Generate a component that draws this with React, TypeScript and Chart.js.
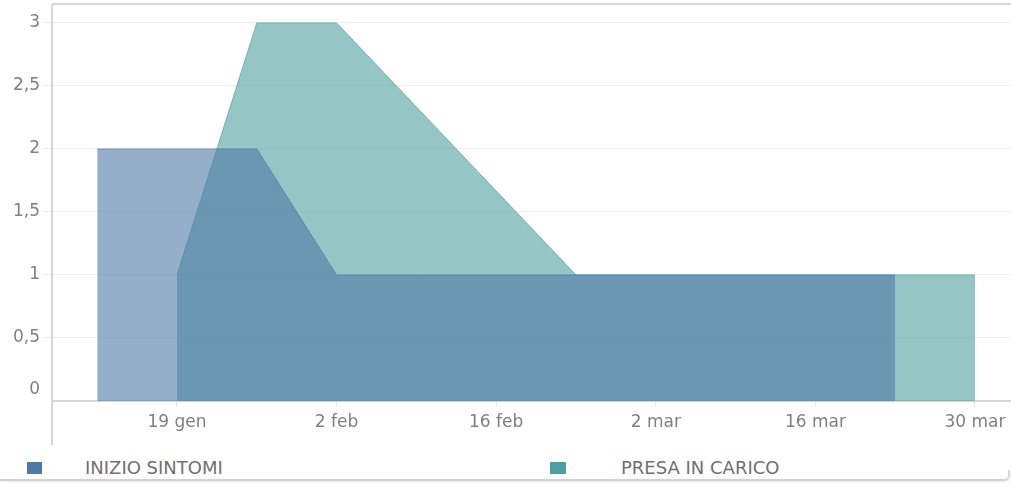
import React, { useEffect, useRef } from 'react';
import { Chart, registerables } from 'chart.js';

Chart.register(...registerables);

// Day-of-year (2021) for each weekly point
const seriesNames = ['INIZIO SINTOMI', 'PRESA IN CARICO'];
const inizioDays = [12, 19, 26, 33, 40, 47, 54, 61, 68, 75, 82];
const inizioValues = [2, 2, 2, 1, 1, 1, 1, 1, 1, 1, 1];
const presaDays = [19, 26, 33, 54, 61, 68, 75, 82, 89];
const presaValues = [1, 3, 3, 1, 1, 1, 1, 1, 1];
const xTickDays = [19, 33, 47, 61, 75, 89];
const xTickLabels = ['19 gen', '2 feb', '16 feb', '2 mar', '16 mar', '30 mar'];
const yTicks = [0, 0.5, 1, 1.5, 2, 2.5, 3];

const FONT = "'DejaVu Sans', sans-serif";
const BLUE = '#4e79a7';
const TEAL = '#4e9f9f';

const framePlugin = {
  id: 'frame',
  afterDraw(chart: any) {
    const { ctx, chartArea } = chart;
    ctx.save();
    ctx.strokeStyle = '#d6d6d6';
    ctx.lineWidth = 2;
    ctx.beginPath();
    ctx.moveTo(chartArea.left, chartArea.top);
    ctx.lineTo(chartArea.left, chart.height - 5);
    ctx.moveTo(chartArea.left, chartArea.top);
    ctx.lineTo(chartArea.right, chartArea.top);
    ctx.stroke();
    ctx.restore();
  },
};

export default function App() {
  const ref = useRef<HTMLCanvasElement | null>(null);

  useEffect(() => {
    if (!ref.current) return;
    const inizio = inizioDays.map((d, i) => ({ x: d, y: inizioValues[i] }));
    const presa = presaDays.map((d, i) => ({ x: d, y: presaValues[i] }));
    const chart = new Chart(ref.current, {
      type: 'line',
      data: {
        datasets: [
          {
            label: seriesNames[0],
            data: inizio,
            fill: 'origin',
            backgroundColor: 'rgba(78,121,167,0.6)',
            borderColor: 'rgba(78,121,167,0.7)',
            borderWidth: 1,
            pointRadius: 0,
            tension: 0,
          },
          {
            label: seriesNames[1],
            data: presa,
            fill: 'origin',
            backgroundColor: 'rgba(78,159,159,0.6)',
            borderColor: 'rgba(78,159,159,0.7)',
            borderWidth: 1,
            pointRadius: 0,
            tension: 0,
          },
        ],
      },
      options: {
        animation: false,
        responsive: false,
        maintainAspectRatio: false,
        layout: { padding: { top: 4, left: 0, right: 0, bottom: 0 } },
        plugins: { legend: { display: false }, tooltip: { enabled: false } },
        scales: {
          x: {
            type: 'linear',
            min: 8.035,
            max: 92.16,
            afterBuildTicks: (s: any) => {
              s.ticks = xTickDays.map((v) => ({ value: v }));
            },
            afterFit: (s: any) => {
              s.height = 49;
              s.paddingLeft = 0;
              s.paddingRight = 0;
            },
            grid: {
              drawOnChartArea: false,
              drawTicks: true,
              tickLength: 6,
              color: '#e8e8e8',
            },
            border: { display: true, color: '#d6d6d6', width: 2 },
            ticks: {
              autoSkip: false,
              maxRotation: 0,
              padding: 5,
              color: '#808080',
              font: { family: FONT, size: 17 },
              callback: (v: any) => {
                const i = xTickDays.indexOf(Number(v));
                return i >= 0 ? xTickLabels[i] : '';
              },
            },
          },
          y: {
            min: 0,
            max: 3.15,
            afterBuildTicks: (s: any) => {
              s.ticks = yTicks.map((v) => ({ value: v }));
            },
            afterFit: (s: any) => {
              s.width = 52;
              s.paddingTop = 0;
              s.paddingBottom = 0;
            },
            grid: {
              color: (c: any) => (c.tick && c.tick.value === 0 ? 'rgba(0,0,0,0)' : '#efefef'),
              drawTicks: true,
              tickLength: 9,
            },
            border: { display: false },
            ticks: {
              padding: 3,
              color: '#808080',
              font: (c: any) =>
                c.tick && c.tick.value === 0
                  ? { family: FONT, size: 17, lineHeight: 1.3 }
                  : { family: FONT, size: 17 },
              callback: (v: any) => {
                const s = String(v).replace('.', ',');
                return Number(v) === 0 ? [s, ''] : s;
              },
            },
          },
        },
      },
      plugins: [framePlugin],
    } as any);
    return () => chart.destroy();
  }, []);

  const legendText: React.CSSProperties = {
    position: 'absolute',
    top: 457,
    fontFamily: FONT,
    fontSize: 18,
    color: '#707070',
    lineHeight: '22px',
    whiteSpace: 'nowrap',
  };

  return (
    <div
      style={{
        position: 'fixed',
        left: 0,
        top: 0,
        width: 1011,
        height: 483,
        background: '#fff',
        overflow: 'hidden',
      }}
    >
      <canvas ref={ref} width={1011} height={450} style={{ position: 'absolute', left: 0, top: 0, width: 1011, height: 450 }} />
      <div style={{ position: 'absolute', left: 27, top: 462, width: 15, height: 12, background: BLUE }} />
      <div style={{ ...legendText, left: 85 }}>{seriesNames[0]}</div>
      <div style={{ position: 'absolute', left: 550, top: 462, width: 16, height: 12, background: TEAL }} />
      <div style={{ ...legendText, left: 621 }}>{seriesNames[1]}</div>
      <div
        style={{
          position: 'absolute',
          left: 0,
          top: 470,
          width: 1008,
          height: 9,
          borderBottom: '2px solid #d2d2d2',
          borderRight: '2px solid #d8d8d8',
          borderBottomRightRadius: 6,
          boxShadow: '1px 1px 2px rgba(0,0,0,0.08)',
        }}
      />
    </div>
  );
}
